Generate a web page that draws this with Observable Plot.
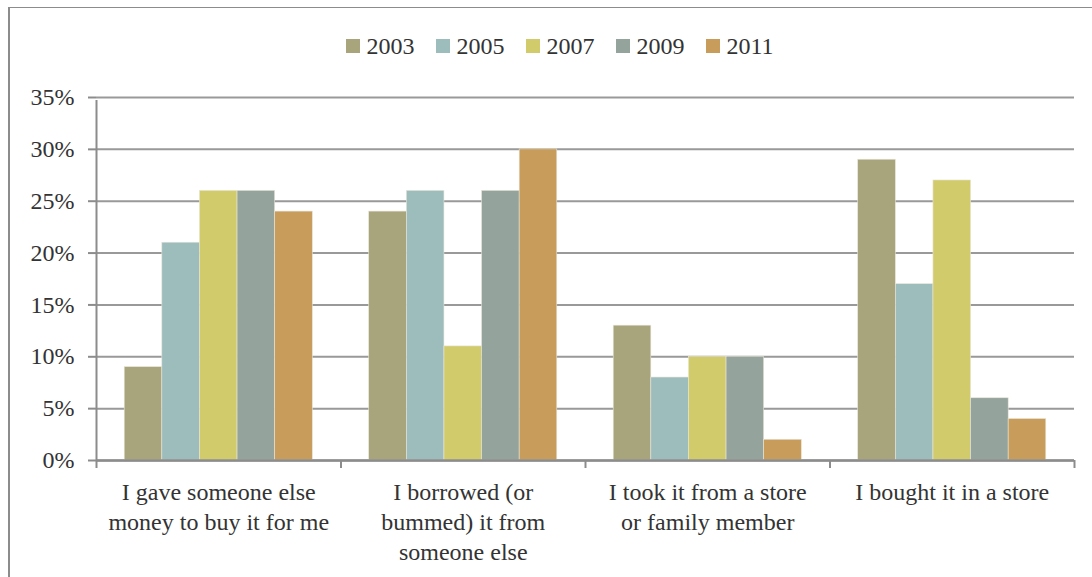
<!DOCTYPE html>
<html>
<head>
<meta charset="utf-8">
<script src="https://cdn.jsdelivr.net/npm/d3@7"></script>
<script src="https://cdn.jsdelivr.net/npm/@observablehq/plot@0.6"></script>
<style>
  html, body { margin: 0; padding: 0; background: #fff; }
  #wrap { position: relative; width: 1092px; height: 577px; overflow: hidden; font-family: 'Liberation Serif', serif; color: #333; }
  #frame { position: absolute; left: 8px; top: 7px; width: 1200px; height: 700px; border-left: 2px solid #8c8c8c; border-top: 1.5px solid #8c8c8c; }
  #legend { position: absolute; top: 31px; left: 0; width: 1120px; display: flex; justify-content: center; font-family: 'Liberation Serif', serif; font-size: 24px; line-height: 30px; }
  .item { display: flex; align-items: center; margin: 0 11px; }
  .sw { width: 14px; height: 14px; margin-right: 6px; }
  #chart { position: absolute; left: 0; top: 0; }
  #chart text { font-family: 'Liberation Serif', serif; }
</style>
</head>
<body>
<div id="wrap">
  <div id="frame"></div>
  <div id="legend"></div>
  <div id="chart"></div>
</div>
<script>
const categories = [
  "I gave someone else\nmoney to buy it for me",
  "I borrowed (or\nbummed) it from\nsomeone else",
  "I took it from a store\nor family member",
  "I bought it in a store"
];
const years = ["2003", "2005", "2007", "2009", "2011"];
const colors = ["#a8a57c", "#9dbdbd", "#d2cb6c", "#94a39b", "#c89d5c"];
const v2003 = [0.09, 0.24, 0.13, 0.29];
const v2005 = [0.21, 0.26, 0.08, 0.17];
const v2007 = [0.26, 0.11, 0.10, 0.27];
const v2009 = [0.26, 0.26, 0.10, 0.06];
const v2011 = [0.24, 0.30, 0.02, 0.04];
const yTicks = [0, 0.05, 0.10, 0.15, 0.20, 0.25, 0.30, 0.35];

const series = [v2003, v2005, v2007, v2009, v2011];
const groupPad = 0.75; // outer padding, in bar widths
const slots = years.length + 2 * groupPad;
const data = [];
categories.forEach((c, i) => {
  years.forEach((y, j) => {
    data.push({cat: c, year: y, value: series[j][i],
      x1: i + (groupPad + j) / slots, x2: i + (groupPad + j + 1) / slots});
  });
});

// legend
const leg = document.getElementById("legend");
years.forEach((y, j) => {
  const it = document.createElement("div");
  it.className = "item";
  it.innerHTML = `<div class="sw" style="background:${colors[j]}"></div><span>${y}</span>`;
  leg.appendChild(it);
});

const serif = "Liberation Serif";
const chart = Plot.plot({
  width: 1092,
  height: 577,
  marginTop: 97,
  marginBottom: 117,
  marginLeft: 96,
  marginRight: 18,
  style: {fontFamily: serif, fontSize: "24px", color: "#333", background: "transparent"},
  x: {domain: [0, categories.length], axis: null},
  y: {domain: [0, 0.35], axis: null, label: null},
  color: {domain: years, range: colors},
  marks: [
    Plot.gridY(yTicks, {stroke: "#999", strokeOpacity: 1, strokeWidth: 2}),
    Plot.rectY(data, {x1: "x1", x2: "x2", y: "value", fill: "year", stroke: "#e8e4d8", strokeWidth: 0.6}),
    Plot.axisY(yTicks, {tickFormat: d3.format(".0%"), tickSize: 8, tickPadding: 14, stroke: "#8c8c8c", strokeWidth: 2, fill: "#333", fontSize: 24, fontFamily: serif, label: null}),
    Plot.ruleX([0], {stroke: "#8c8c8c", strokeWidth: 2, y1: 0, y2: 0.35, insetBottom: -3}),
    Plot.ruleY([0], {stroke: "#8c8c8c", strokeWidth: 2.5}),
    Plot.axisX(d3.range(categories.length + 1), {tickSize: 8, tickFormat: () => "", stroke: "#8c8c8c", strokeWidth: 2, label: null}),
    Plot.text(categories, {x: (d, i) => i + 0.5, y: () => 0, text: d => d, lineAnchor: "top", dy: 18, lineHeight: 1.25, fontSize: 24, fontFamily: serif, fill: "#333"})
  ]
});
document.getElementById("chart").appendChild(chart);
</script>
</body>
</html>
